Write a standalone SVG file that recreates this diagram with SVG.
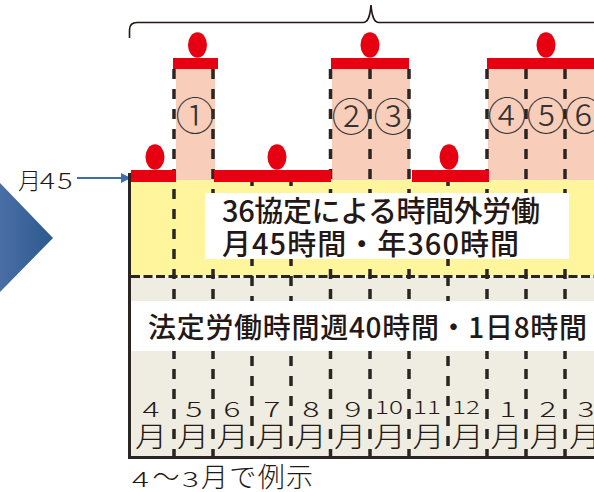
<svg xmlns="http://www.w3.org/2000/svg" width="594" height="492" viewBox="0 0 594 492">
<defs>
<linearGradient id="tri" x1="0" y1="0" x2="1" y2="0">
<stop offset="0" stop-color="#4a6ea6"/>
<stop offset="1" stop-color="#2c5a8e"/>
</linearGradient>
<marker id="ah" markerWidth="10" markerHeight="10" refX="9" refY="5" orient="auto" markerUnits="userSpaceOnUse" viewBox="0 0 10 10">
<path d="M0,0 L10,5 L0,10 z" fill="#3c6fb0"/>
</marker>
<style>
.t{font-family:"Noto Sans CJK JP","Noto Sans",sans-serif;fill:#231815}
.b{font-weight:500}
.red{fill:#e60012}
.pink{fill:#f8cdb9}
.dv{stroke:#2a2522;stroke-width:3.5;stroke-dasharray:10 10;fill:none}
.dh{stroke:#2a2522;stroke-width:3;stroke-dasharray:9 3.5;fill:none}
.solid{stroke:#2a2522;stroke-width:3;fill:none}
.num{font-size:21px;text-anchor:middle;font-weight:300}
.num2{font-size:18px;text-anchor:middle;font-weight:300}
.mon{font-size:28px;text-anchor:middle;font-weight:300}
.circ{font-size:39px;text-anchor:middle;fill:#333;font-weight:300}
.lt{font-weight:300}
</style>
</defs>

<g id="pointer">
<polygon points="0,183 53,238 0,292" fill="url(#tri)"/>
</g>

<g id="backgrounds">
<rect class="pink" x="176" y="69" width="39" height="111"/>
<rect class="pink" x="332" y="69" width="78" height="111"/>
<rect class="pink" x="488" y="69" width="106" height="111"/>
<rect x="131" y="180" width="463" height="96" fill="#fff59c"/>
<rect x="131" y="277" width="463" height="180" fill="#efede1"/>
</g>

<g id="connectors">
<line class="dv" x1="174" y1="69" x2="174" y2="456"/>
<line class="dv" x1="213" y1="69" x2="213" y2="456"/>
<line class="dv" x1="252" y1="176" x2="252" y2="456"/>
<line class="dv" x1="291" y1="176" x2="291" y2="456"/>
<line class="dv" x1="330.5" y1="69" x2="330.5" y2="456"/>
<line class="dv" x1="370" y1="69" x2="370" y2="456"/>
<line class="dv" x1="409" y1="69" x2="409" y2="456"/>
<line class="dv" x1="448" y1="176" x2="448" y2="456"/>
<line class="dv" x1="487" y1="69" x2="487" y2="456"/>
<line class="dv" x1="526" y1="69" x2="526" y2="456"/>
<line class="dv" x1="565" y1="69" x2="565" y2="456"/>
<line class="dh" x1="131" y1="276.5" x2="594" y2="276.5"/>
<line x1="77" y1="178" x2="130" y2="178" stroke="#3c6fb0" stroke-width="2" marker-end="url(#ah)"/>
<path d="M129.5,38 L129.5,30 Q129.5,22.5 137,22.5 L363,22.5 C368,22.5 370,17 371,5 C372,17 374,22.5 379,22.5 L594,22.5" fill="none" stroke="#231815" stroke-width="1.6"/>
</g>

<g id="box-36">
<rect x="205" y="193" width="364" height="66" fill="#fff"/>
<text class="t b" x="222" y="222" font-size="29" textLength="318" lengthAdjust="spacing">36協定による時間外労働</text>
<text class="t b" x="222" y="255" font-size="29" textLength="297" lengthAdjust="spacing">月45時間・年360時間</text>
</g>

<g id="box-legal">
<rect x="131" y="301" width="463" height="50" fill="#fff"/>
<text class="t b" x="148" y="338" font-size="28" textLength="439" lengthAdjust="spacing">法定労働時間週40時間・1日8時間</text>
</g>

<g id="bars">
<rect class="red" x="131" y="170" width="45" height="12"/>
<ellipse class="red" cx="155" cy="157" rx="9.5" ry="12.8"/>
<rect class="red" x="173" y="58" width="45" height="11"/>
<ellipse class="red" cx="197.5" cy="45" rx="9.5" ry="12.8"/>
<rect class="red" x="214" y="170" width="117" height="12"/>
<ellipse class="red" cx="277" cy="157" rx="9.5" ry="12.8"/>
<rect class="red" x="331" y="58" width="78" height="11"/>
<ellipse class="red" cx="370" cy="45" rx="9.5" ry="12.8"/>
<rect class="red" x="412" y="170" width="77" height="12"/>
<ellipse class="red" cx="449" cy="157" rx="9.5" ry="12.8"/>
<rect class="red" x="487" y="58" width="107" height="11"/>
<ellipse class="red" cx="546" cy="45" rx="9.5" ry="12.8"/>
</g>

<g id="circled">
<text class="t circ" x="195" y="130">①</text>
<text class="t circ" x="351" y="131">②</text>
<text class="t circ" x="393" y="131">③</text>
<text class="t circ" x="507" y="130">④</text>
<text class="t circ" x="546" y="130">⑤</text>
<text class="t circ" x="584" y="130">⑥</text>
</g>

<g id="axis">
<line class="solid" x1="129.5" y1="173" x2="129.5" y2="459"/>
<line class="solid" x1="128" y1="457.5" x2="594" y2="457.5"/>
</g>

<g id="months">
<text class="t num" transform="translate(151,417) scale(1.5,1)">4</text>
<text class="t num" transform="translate(194,417) scale(1.5,1)">5</text>
<text class="t num" transform="translate(232,417) scale(1.5,1)">6</text>
<text class="t num" transform="translate(272,417) scale(1.5,1)">7</text>
<text class="t num" transform="translate(311,417) scale(1.5,1)">8</text>
<text class="t num" transform="translate(353,417) scale(1.5,1)">9</text>
<text class="t num2" transform="translate(389,414) scale(1.45,1)">10</text>
<text class="t num2" transform="translate(427,414) scale(1.45,1)">11</text>
<text class="t num2" transform="translate(466,414) scale(1.45,1)">12</text>
<text class="t num" transform="translate(508,417) scale(1.5,1)">1</text>
<text class="t num" transform="translate(548,417) scale(1.5,1)">2</text>
<text class="t num" transform="translate(586,417) scale(1.5,1)">3</text>
<text class="t mon" transform="translate(151,447) scale(1.15,1)">月</text>
<text class="t mon" transform="translate(193,447) scale(1.15,1)">月</text>
<text class="t mon" transform="translate(232.5,447) scale(1.15,1)">月</text>
<text class="t mon" transform="translate(271.5,447) scale(1.15,1)">月</text>
<text class="t mon" transform="translate(310.5,447) scale(1.15,1)">月</text>
<text class="t mon" transform="translate(350,447) scale(1.15,1)">月</text>
<text class="t mon" transform="translate(389.5,447) scale(1.15,1)">月</text>
<text class="t mon" transform="translate(428.5,447) scale(1.15,1)">月</text>
<text class="t mon" transform="translate(467.5,447) scale(1.15,1)">月</text>
<text class="t mon" transform="translate(506.5,447) scale(1.15,1)">月</text>
<text class="t mon" transform="translate(545.5,447) scale(1.15,1)">月</text>
<text class="t mon" transform="translate(585,447) scale(1.15,1)">月</text>
</g>

<g id="labels">
<text class="t lt" x="18" y="189" font-size="23">月</text>
<text class="t lt" transform="translate(47.5,189) scale(1.3,1)" font-size="22" text-anchor="middle">4</text>
<text class="t lt" transform="translate(65,189) scale(1.3,1)" font-size="22" text-anchor="middle">5</text>
<text class="t lt" transform="translate(140.5,487) scale(1.5,1)" font-size="21" text-anchor="middle">4</text>
<text class="t lt" x="166" y="487" font-size="27" text-anchor="middle">〜</text>
<text class="t lt" transform="translate(190.5,487) scale(1.5,1)" font-size="21" text-anchor="middle">3</text>
<text class="t lt" x="201" y="487" font-size="27" textLength="112" lengthAdjust="spacing">月で例示</text>
</g>
</svg>
